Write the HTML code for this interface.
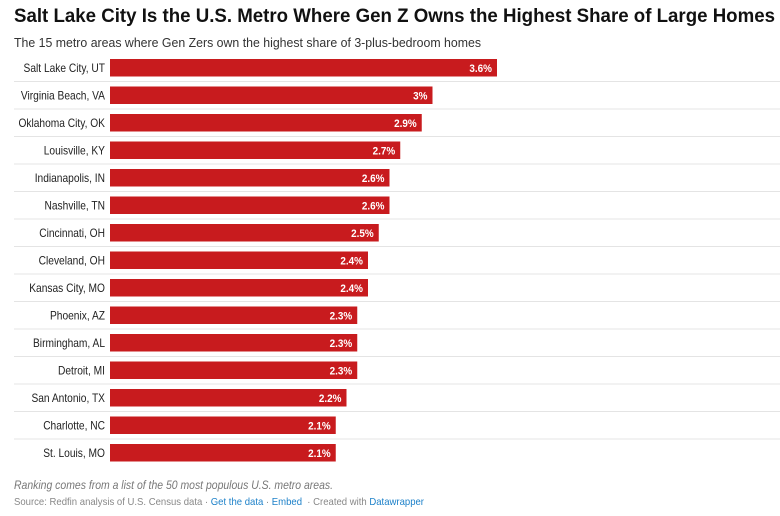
<!DOCTYPE html>
<html><head><meta charset="utf-8"><style>
body{margin:0;background:#fff;font-family:"Liberation Sans",sans-serif;width:780px;height:516px;overflow:hidden;position:relative}
.fit{position:absolute;white-space:nowrap;transform-origin:0 0}
.t{left:14px;top:5px;font-size:19.5px;font-weight:bold;color:#111}
.s{left:14px;top:35px;font-size:13px;color:#333}
.n{left:14px;top:478px;font-size:12px;font-style:italic;color:#777}
.src{left:14px;top:496px;font-size:10.5px;color:#888}
.src a{color:#1d81c9;text-decoration:none}
</style></head><body>
<div class="fit t" data-w="761">Salt Lake City Is the U.S. Metro Where Gen Z Owns the Highest Share of Large Homes</div>
<div class="fit s" data-w="467">The 15 metro areas where Gen Zers own the highest share of 3-plus-bedroom homes</div>
<svg id="c" width="780" height="470" style="position:absolute;left:0;top:0"></svg>
<div class="fit n" data-w="319">Ranking comes from a list of the 50 most populous U.S. metro areas.</div>
<div class="fit src" data-w="410">Source: Redfin analysis of U.S. Census data · <a>Get the data</a> · <a>Embed</a> &nbsp;· Created with <a>Datawrapper</a></div>
<script>
const categories=["Salt Lake City, UT","Virginia Beach, VA","Oklahoma City, OK","Louisville, KY","Indianapolis, IN","Nashville, TN","Cincinnati, OH","Cleveland, OH","Kansas City, MO","Phoenix, AZ","Birmingham, AL","Detroit, MI","San Antonio, TX","Charlotte, NC","St. Louis, MO"];
const values=[3.6,3,2.9,2.7,2.6,2.6,2.5,2.4,2.4,2.3,2.3,2.3,2.2,2.1,2.1];
const labels=["3.6%","3%","2.9%","2.7%","2.6%","2.6%","2.5%","2.4%","2.4%","2.3%","2.3%","2.3%","2.2%","2.1%","2.1%"];
document.querySelectorAll('.fit').forEach(e=>{const w=e.getBoundingClientRect().width;e.style.transform='scaleX('+(+e.dataset.w/w)+')';});
const svg=document.getElementById('c');const NS="http://www.w3.org/2000/svg";
const x0=110,k=107.5,top0=59,step=27.5,bh=17.5;
const xs=v=>x0+v*k, ys=i=>top0+i*step;
function mk(t,a){const e=document.createElementNS(NS,t);for(const p in a)e.setAttribute(p,a[p]);svg.appendChild(e);return e;}
function squeeze(t,f){const w=t.getComputedTextLength();t.setAttribute('textLength',w*f);t.setAttribute('lengthAdjust','spacingAndGlyphs');}
categories.forEach((c,i)=>{
 const y=ys(i);
 if(i<categories.length-1){const l=mk('line',{x1:14,x2:780,y1:y+bh+5,y2:y+bh+5,stroke:'#e4e4e4','stroke-width':1});
 
 }
 const t=mk('text',{x:105,y:y+bh/2+4,'text-anchor':'end','font-size':12,fill:'#222'});t.textContent=c;squeeze(t,0.85);
 
 
 const r=mk('rect',{x:x0,y:y,width:xs(values[i])-x0,height:bh,fill:'#c81b1e'});
 
 
 const v=mk('text',{x:xs(values[i])-5,y:y+bh/2+4,'text-anchor':'end','font-size':11,'font-weight':'bold',fill:'#fff'});v.textContent=labels[i];squeeze(v,0.9);
 
 
});
</script>
</body></html>
